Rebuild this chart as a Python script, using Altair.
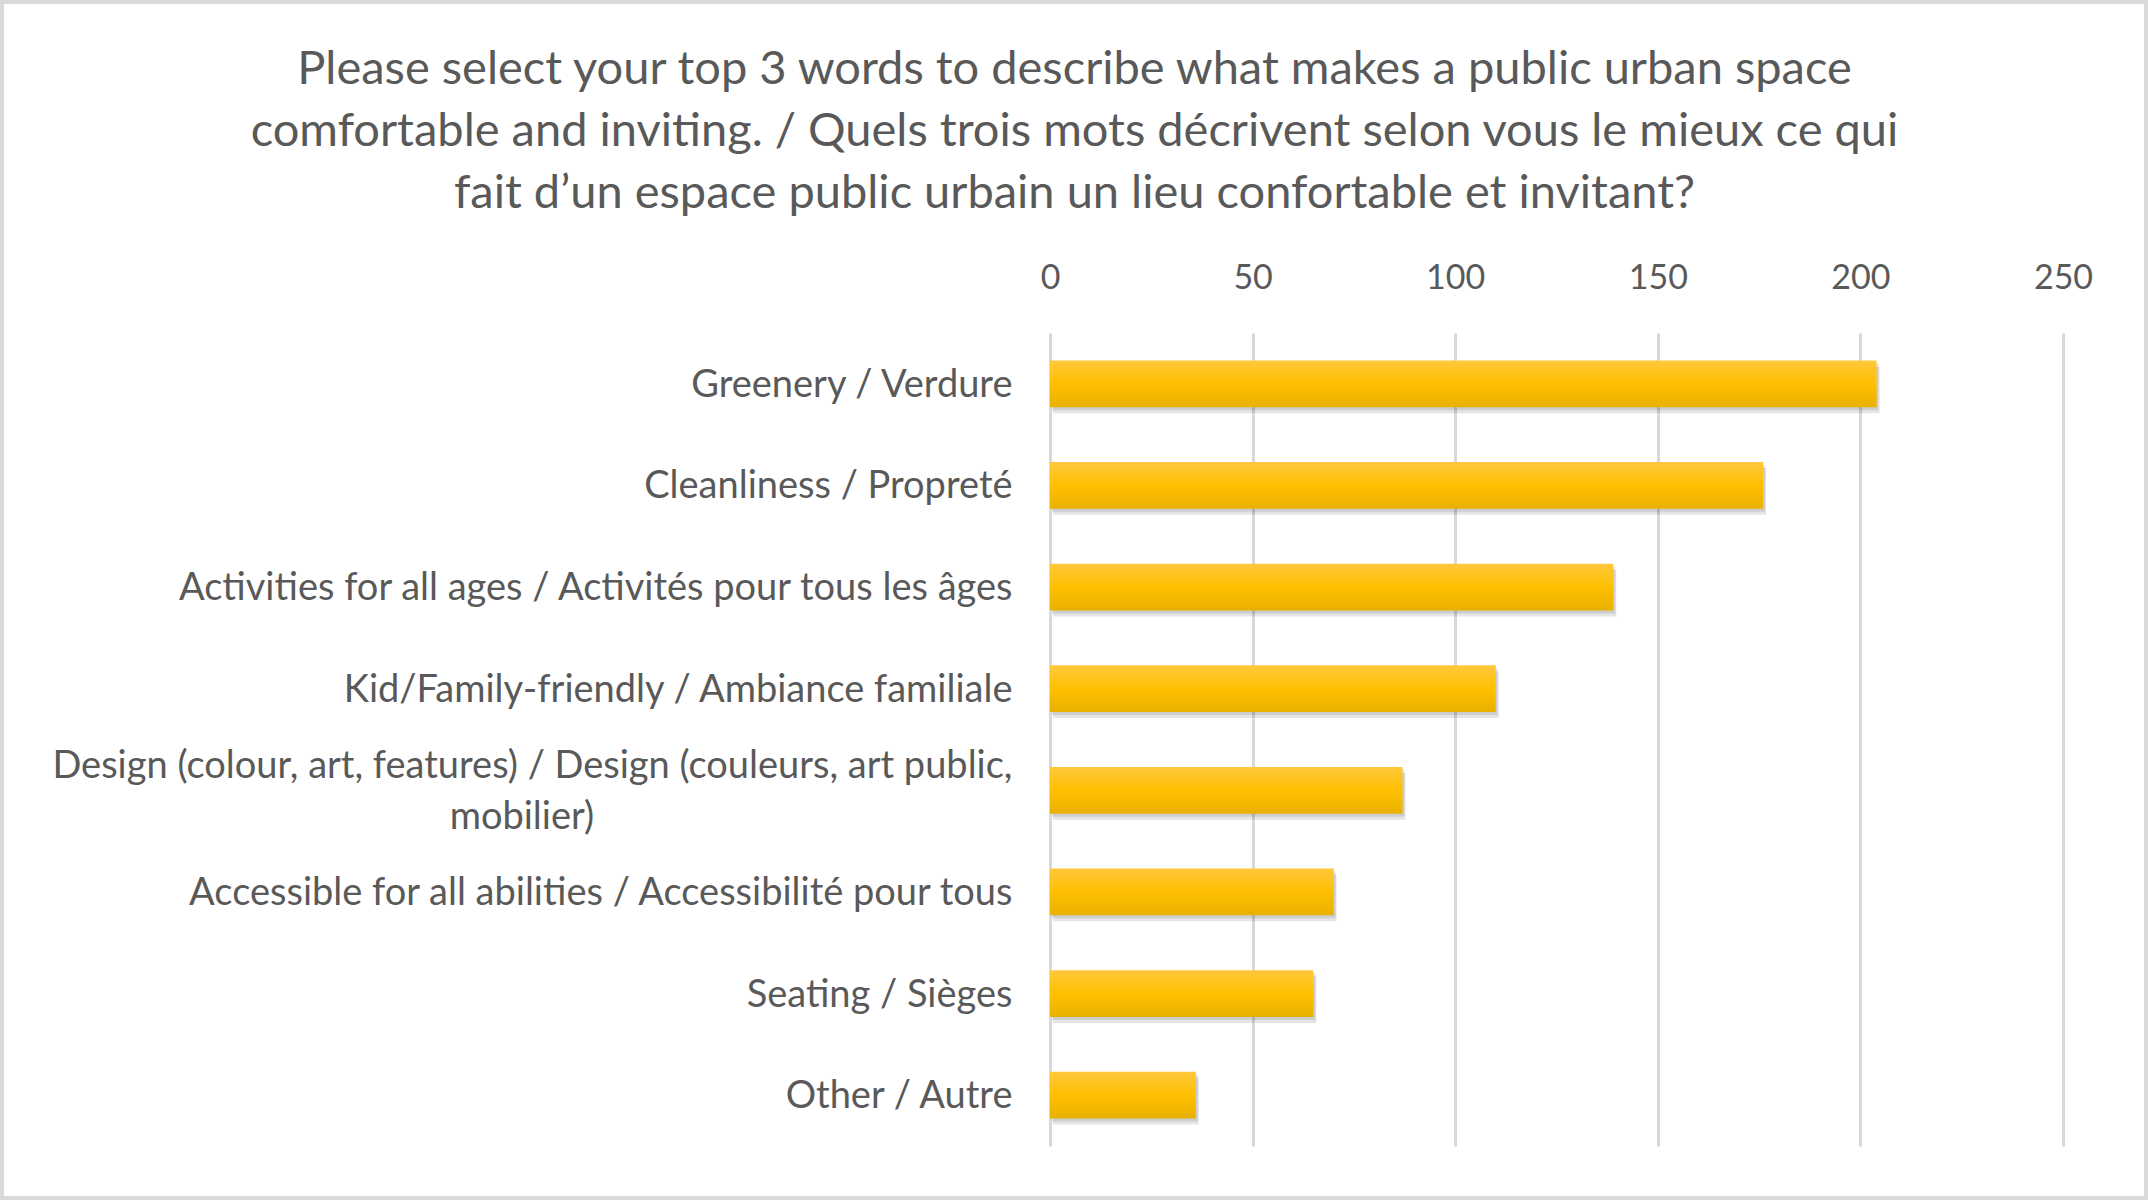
import altair as alt
import pandas as pd

categories = [
    "Greenery / Verdure",
    "Cleanliness / Propreté",
    "Activities for all ages / Activités pour tous les âges",
    "Kid/Family-friendly / Ambiance familiale",
    "Design (colour, art, features) / Design (couleurs, art public, mobilier)",
    "Accessible for all abilities / Accessibilité pour tous",
    "Seating / Sièges",
    "Other / Autre",
]
values = [204, 176, 139, 110, 87, 70, 65, 36]
x_ticks = [0, 50, 100, 150, 200, 250]
title_lines = [
    "Please select your top 3 words to describe what makes a public urban space",
    "comfortable and inviting. / Quels trois mots décrivent selon vous le mieux ce qui",
    "fait d\u2019un espace public urbain un lieu confortable et invitant?",
]

df = pd.DataFrame({"category": categories, "value": values})

FONT = "Lato"
GREY = "#595959"
W, H = 1013, 813

pad = "\u00a0" * 43 + "\u200b"
design_test = "datum.value == '" + categories[4] + "'"
label_expr = (
    design_test + " ? "
    "['Design (colour, art, features) / Design (couleurs, art public,', 'mobilier)" + pad + "'] : datum.value"
)

x_enc = alt.X(
    "value:Q",
    scale=alt.Scale(domain=[0, 250], nice=False),
    axis=alt.Axis(
        orient="top", values=x_ticks, title=None, ticks=False, domain=False,
        labelFont=FONT, labelFontSize=34, labelColor=GREY, labelPadding=38,
        labelFlush=False,
        grid=True, gridColor="#d9d9d9", gridWidth=3,
    ),
)
y_enc = alt.Y(
    "category:N",
    sort=categories,
    scale=alt.Scale(paddingInner=0.54, paddingOuter=0.27),
    axis=alt.Axis(
        title=None, ticks=False, domain=False, labelFont=FONT, labelFontSize=38,
        labelColor=GREY, labelPadding=38, labelLimit=2000, labelExpr=label_expr,
        labelLineHeight=51,
        labelOffset={"condition": {"test": design_test, "value": -23}, "value": 2},
    ),
)

border = alt.Chart(df).mark_rect(
    fill=None, stroke="#d9d9d9", strokeWidth=3, clip=False
).encode(
    x=alt.value(-1048), x2=alt.value(1096), y=alt.value(-331), y2=alt.value(865)
)

shadow1 = alt.Chart(df).mark_bar(color="#000000", opacity=0.10, xOffset=3, yOffset=6).encode(x=x_enc, y=y_enc)
shadow2 = alt.Chart(df).mark_bar(color="#000000", opacity=0.10, xOffset=2, yOffset=3).encode(x=x_enc, y=y_enc)

bars = alt.Chart(df).mark_bar(
    color=alt.Gradient(
        gradient="linear", x1=0, y1=0, x2=0, y2=1,
        stops=[
            alt.GradientStop(color="#FFC83D", offset=0),
            alt.GradientStop(color="#FFC000", offset=0.5),
            alt.GradientStop(color="#E8B000", offset=1),
        ],
    )
).encode(x=x_enc, y=y_enc)

chart = alt.layer(border, shadow2, shadow1, bars).properties(
    width=W, height=H,
    title=alt.Title(
        title_lines, anchor="middle", frame="group", dx=-482, offset=-217,
        font=FONT, fontSize=47, fontWeight="normal", color=GREY, lineHeight=62,
    ),
    autosize=alt.AutoSizeParams(type="none"),
    padding={"left": 1050, "top": 333, "right": 85, "bottom": 54},
).configure(background="white").configure_view(stroke=None)

chart.save("out.html", embed_options={"renderer": "svg", "actions": False})
